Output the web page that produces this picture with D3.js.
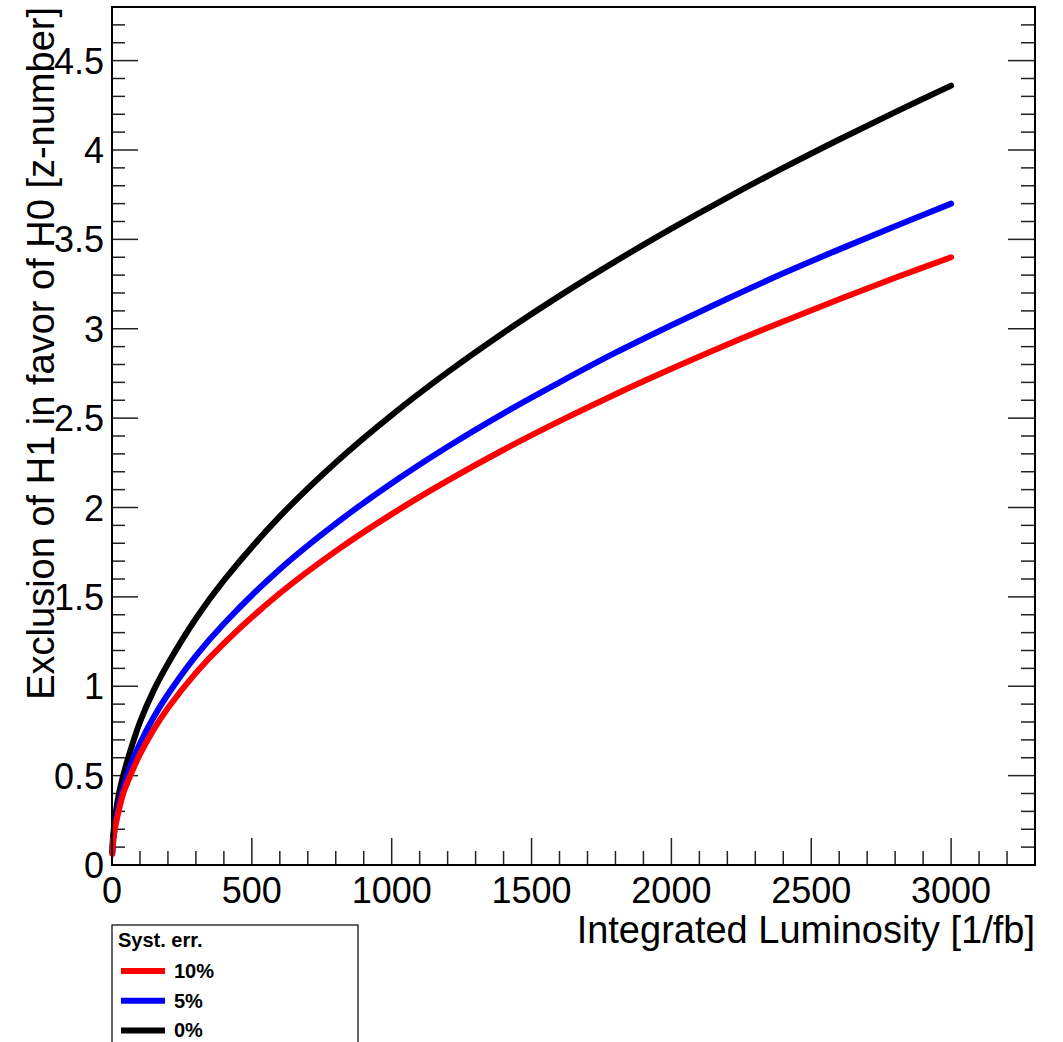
<!DOCTYPE html>
<html>
<head>
<meta charset="utf-8">
<script src="https://cdn.jsdelivr.net/npm/d3@7"></script>
<style>
  body { margin: 0; background: #fff; }
  text { font-family: "Liberation Sans", Arial, Helvetica, sans-serif; }
</style>
</head>
<body>
<div id="chart"></div>
<script>
// Luminosity points (1/fb) and significance
var lumi = [1, 3, 5, 10, 15, 25, 40, 60, 100, 150, 200, 300, 400, 600, 800, 1000,
            1200, 1400, 1600, 1800, 2000, 2200, 2400, 2600, 2800, 3000];
var syst0 = [0.08, 0.14, 0.18, 0.25, 0.31, 0.40, 0.50, 0.61, 0.80, 0.98, 1.126, 1.379, 1.592, 1.950, 2.252, 2.517,
             2.757, 2.978, 3.184, 3.377, 3.560, 3.734, 3.900, 4.059, 4.212, 4.36];
var syst5 = [0.068, 0.12, 0.15, 0.21, 0.26, 0.34, 0.43, 0.53, 0.68, 0.83, 0.955, 1.17, 1.35, 1.655, 1.91, 2.136,
             2.34, 2.527, 2.70, 2.866, 3.02, 3.168, 3.31, 3.444, 3.574, 3.70];
var syst10 = [0.062, 0.11, 0.14, 0.20, 0.24, 0.31, 0.40, 0.48, 0.62, 0.76, 0.878, 1.075, 1.24, 1.52, 1.756, 1.963,
              2.15, 2.323, 2.483, 2.634, 2.776, 2.912, 3.041, 3.165, 3.285, 3.40];

var legendLabels = ["10%", "5%", "0%"];
var legendColors = ["#ff0000", "#0000ff", "#000000"];
var xTicks = [0, 500, 1000, 1500, 2000, 2500, 3000];
var yTicks = [0, 0.5, 1, 1.5, 2, 2.5, 3, 3.5, 4, 4.5];

var width = 1063, height = 1042;
var frameL = 112, frameR = 1035, frameT = 7, frameB = 865;

var svg = d3.select("#chart").append("svg")
    .attr("width", width)
    .attr("height", height);

var x = d3.scaleLinear().domain([0, 3300]).range([frameL, frameR]);
var y = d3.scaleLinear().domain([0, 4.8]).range([frameB, frameT]);

// minor + major ticks, ROOT style (inside the frame)
var xMinor = d3.range(0, 3301, 100);
var yMinor = d3.range(0, 48).map(function (i) { return i / 10; });

svg.selectAll(".xtick").data(xMinor).enter().append("line")
    .attr("x1", function (d) { return x(d); })
    .attr("x2", function (d) { return x(d); })
    .attr("y1", frameB)
    .attr("y2", function (d) { return d % 500 === 0 ? frameB - 27 : frameB - 14; })
    .attr("stroke", "#222").attr("stroke-width", 1.5);

svg.selectAll(".ytick").data(yMinor).enter().append("line")
    .attr("x1", frameL)
    .attr("x2", function (d, i) { return i % 5 === 0 ? frameL + 26 : frameL + 13; })
    .attr("y1", function (d) { return y(d); })
    .attr("y2", function (d) { return y(d); })
    .attr("stroke", "#222").attr("stroke-width", 1.5);

svg.selectAll(".ytickR").data(yMinor).enter().append("line")
    .attr("x1", frameR)
    .attr("x2", function (d, i) { return i % 5 === 0 ? frameR - 27 : frameR - 14; })
    .attr("y1", function (d) { return y(d); })
    .attr("y2", function (d) { return y(d); })
    .attr("stroke", "#222").attr("stroke-width", 1.5);

// tick labels
svg.selectAll(".xlab").data(xTicks).enter().append("text")
    .attr("x", function (d) { return x(d); })
    .attr("y", 903)
    .attr("text-anchor", "middle")
    .attr("font-size", "36px")
    .text(function (d) { return d; });

svg.selectAll(".ylab").data(yTicks).enter().append("text")
    .attr("x", 104)
    .attr("y", function (d) { return y(d) + 13; })
    .attr("text-anchor", "end")
    .attr("font-size", "36px")
    .text(function (d) { return d; });

// curves
var line = d3.line()
    .x(function (d) { return x(d[0]); })
    .y(function (d) { return y(d[1]); })
    .curve(d3.curveCatmullRom.alpha(0.5));

var series = [syst0, syst5, syst10];
var seriesColors = ["#000000", "#0000ff", "#ff0000"];
series.forEach(function (s, k) {
    svg.append("path")
        .datum(lumi.map(function (l, i) { return [l, s[i]]; }))
        .attr("d", line)
        .attr("fill", "none")
        .attr("stroke", seriesColors[k])
        .attr("stroke-width", 6)
        .attr("stroke-linecap", "round")
        .attr("stroke-linejoin", "round");
});

// frame
svg.append("rect")
    .attr("x", frameL).attr("y", frameT)
    .attr("width", frameR - frameL).attr("height", frameB - frameT)
    .attr("fill", "none").attr("stroke", "#000").attr("stroke-width", 2);

// axis titles
svg.append("text")
    .attr("x", frameR).attr("y", 943)
    .attr("text-anchor", "end")
    .attr("font-size", "38px")
    .text("Integrated Luminosity [1/fb]");

svg.append("text")
    .attr("transform", "translate(54," + frameT + ") rotate(-90)")
    .attr("text-anchor", "end")
    .attr("font-size", "38px")
    .text("Exclusion of H1 in favor of H0 [z-number]");

// legend
var leg = svg.append("g");
leg.append("rect")
    .attr("x", 112).attr("y", 925)
    .attr("width", 246).attr("height", 140)
    .attr("fill", "#fff").attr("stroke", "#000").attr("stroke-width", 1.2);
leg.append("text")
    .attr("x", 118).attr("y", 947)
    .attr("font-size", "20px").attr("font-weight", "bold")
    .text("Syst. err.");
legendLabels.forEach(function (lab, i) {
    var ly = 971 + i * 29.7;
    leg.append("line")
        .attr("x1", 121).attr("x2", 165)
        .attr("y1", ly).attr("y2", ly)
        .attr("stroke", legendColors[i]).attr("stroke-width", 6);
    leg.append("text")
        .attr("x", 174).attr("y", ly + 7)
        .attr("font-size", "20px").attr("font-weight", "bold")
        .text(lab);
});
</script>
</body>
</html>
